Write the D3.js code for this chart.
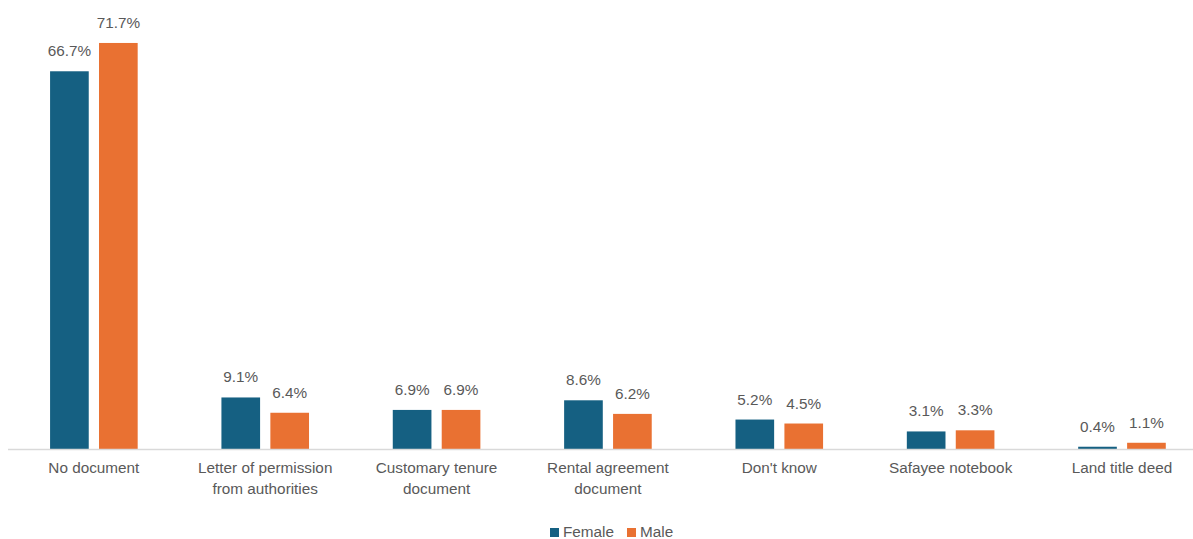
<!DOCTYPE html>
<html><head><meta charset="utf-8">
<script src="https://cdn.jsdelivr.net/npm/d3@7"></script>
<style>body{margin:0;background:#fff}svg{display:block}</style>
</head><body>
<svg id="c" width="1193" height="539"></svg>
<script>
const categories = [["No document"],["Letter of permission","from authorities"],["Customary tenure","document"],["Rental agreement","document"],["Don't know"],["Safayee notebook"],["Land title deed"]];
const seriesNames = ["Female","Male"];
const female = [66.7, 9.1, 6.9, 8.6, 5.2, 3.1, 0.4];
const male = [71.7, 6.4, 6.9, 6.2, 4.5, 3.3, 1.1];
const colors = ["#156082","#E97132"];
const values = [female, male];

const svg = d3.select("#c");
const font = "'Liberation Sans', Arial, sans-serif";
const textColor = "#595959";
const baseY = 449;
const x0 = d3.scaleBand().domain(d3.range(categories.length)).range([8.2, 8.2 + 7*171.35]).paddingInner(0).paddingOuter(0);
const x1 = d3.scaleBand().domain([0,1]).range([x0.bandwidth()/2 - 43.8, x0.bandwidth()/2 + 43.8]).paddingInner(0.21);
const y = d3.scaleLinear().domain([0, 80]).range([baseY, baseY - 80*5.663]);

const g = svg.append("g");
categories.forEach((c, i) => {
  const grp = g.append("g").attr("transform", `translate(${x0(i)},0)`);
  [0,1].forEach(s => {
    const v = values[s][i];
    grp.append("rect")
      .attr("x", x1(s)).attr("width", x1.bandwidth())
      .attr("y", y(v)).attr("height", baseY - y(v))
      .attr("fill", colors[s]);
    grp.append("text")
      .attr("x", x1(s) + x1.bandwidth()/2).attr("y", y(v) - 15)
      .attr("text-anchor","middle").attr("font-family",font).attr("font-size",15.3)
      .attr("fill",textColor).text(v.toFixed(1) + "%");
  });
  const t = grp.append("text").attr("text-anchor","middle").attr("font-family",font).attr("font-size",15.3).attr("fill",textColor);
  c.forEach((line, k) => {
    t.append("tspan").attr("x", x0.bandwidth()/2).attr("y", 473 + k*20.5).text(line);
  });
});

svg.append("line").attr("x1", 8).attr("x2", 1193).attr("y1", baseY + 0.5).attr("y2", baseY + 0.5)
  .attr("stroke", "#d9d9d9").attr("stroke-width", 1.5);

// legend
const leg = svg.append("g");
const legX = [550, 627];
seriesNames.forEach((n, s) => {
  leg.append("rect").attr("x", legX[s]).attr("y", 528).attr("width", 9).attr("height", 9).attr("fill", colors[s]);
  leg.append("text").attr("x", legX[s] + 13).attr("y", 536.5).attr("font-family",font).attr("font-size",15.3)
    .attr("fill",textColor).text(n);
});
</script>
</body></html>
